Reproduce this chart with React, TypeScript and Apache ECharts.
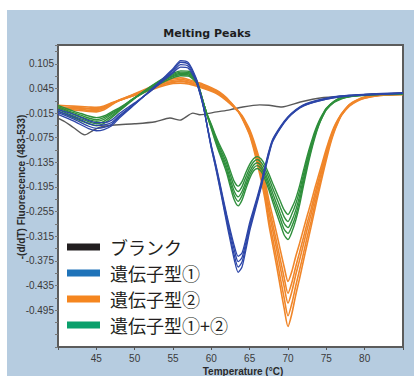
import React, { useEffect, useRef } from "react";
import * as echarts from "echarts";

// ---- Data ----
const LEGEND_NAMES = ["ブランク", "遺伝子型①", "遺伝子型②", "遺伝子型①+②"];
const Y_TICK_LABELS = ["0.105", "0.045", "-0.015", "-0.075", "-0.135", "-0.195", "-0.255", "-0.315", "-0.375", "-0.435", "-0.495"];
const X_TICKS = [45, 50, 55, 60, 65, 70, 75, 80];

const TEMP_BLANK = [40, 40.9, 42, 43.5, 44.5, 45.5, 47.4, 50, 52.7, 54.6, 55.9, 57.6, 58.5, 60.7, 62.4, 64.1, 66.3, 67.5, 69.2, 71.6, 74.2, 78.1, 81, 85];
const BLANK = [-0.027, -0.036, -0.05, -0.068, -0.058, -0.049, -0.044, -0.041, -0.036, -0.027, -0.032, -0.015, -0.019, -0.012, -0.007, 0.0, 0.005, 0.004, 0.0, 0.012, 0.022, 0.027, 0.03, 0.033];

const TEMP_BLUE = [40, 42, 44, 45, 46, 47, 48, 50, 52, 54, 55, 56, 57, 58, 58.5, 59, 59.5, 60, 60.5, 61, 61.5, 62, 62.5, 63, 63.5, 64, 64.5, 65, 65.5, 66, 66.5, 67, 67.5, 68, 69, 70, 71, 72, 74, 76, 78, 80, 85];
const BLUE_1 = [-0.006, -0.018, -0.033, -0.038, -0.038, -0.032, -0.016, 0.01, 0.037, 0.068, 0.083, 0.097, 0.094, 0.062, 0.033, -0.003, -0.049, -0.094, -0.133, -0.175, -0.219, -0.262, -0.302, -0.339, -0.364, -0.356, -0.322, -0.282, -0.25, -0.218, -0.184, -0.145, -0.108, -0.079, -0.048, -0.024, -0.007, 0.005, 0.017, 0.025, 0.029, 0.031, 0.035];
const BLUE_2 = [-0.01, -0.024, -0.04, -0.045, -0.044, -0.038, -0.021, 0.008, 0.038, 0.07, 0.086, 0.103, 0.099, 0.065, 0.035, -0.002, -0.05, -0.096, -0.136, -0.179, -0.224, -0.268, -0.31, -0.349, -0.377, -0.367, -0.331, -0.289, -0.256, -0.223, -0.188, -0.149, -0.111, -0.081, -0.05, -0.025, -0.008, 0.004, 0.016, 0.024, 0.028, 0.03, 0.034];
const BLUE_3 = [-0.014, -0.029, -0.047, -0.052, -0.05, -0.042, -0.024, 0.007, 0.039, 0.073, 0.09, 0.109, 0.104, 0.068, 0.037, -0.001, -0.051, -0.099, -0.14, -0.184, -0.23, -0.276, -0.32, -0.362, -0.39, -0.378, -0.34, -0.296, -0.261, -0.227, -0.192, -0.152, -0.114, -0.083, -0.051, -0.026, -0.009, 0.003, 0.015, 0.023, 0.027, 0.03, 0.033];
const BLUE_4 = [-0.018, -0.034, -0.053, -0.058, -0.055, -0.046, -0.027, 0.006, 0.04, 0.075, 0.093, 0.113, 0.108, 0.071, 0.039, 0.0, -0.052, -0.101, -0.143, -0.188, -0.235, -0.283, -0.329, -0.373, -0.403, -0.39, -0.349, -0.303, -0.267, -0.232, -0.196, -0.155, -0.117, -0.085, -0.052, -0.027, -0.01, 0.002, 0.014, 0.022, 0.027, 0.029, 0.033];

const TEMP_ORANGE = [40, 42, 44, 45, 46, 47, 48, 50, 52, 54, 55, 56, 57, 58, 59, 60, 61, 62, 62.5, 63, 63.5, 64, 64.5, 65, 65.5, 66, 66.5, 67, 67.5, 68, 68.5, 69, 69.5, 70, 70.5, 71, 71.5, 72, 72.5, 73, 73.5, 74, 74.5, 75, 75.5, 76, 76.5, 77, 78, 79, 80, 82, 85];
const ORANGE_1 = [0.004, 0.002, 0.0, -0.001, 0.002, 0.01, 0.017, 0.028, 0.041, 0.053, 0.057, 0.058, 0.056, 0.051, 0.045, 0.038, 0.029, 0.015, 0.007, -0.002, -0.011, -0.021, -0.037, -0.055, -0.08, -0.11, -0.142, -0.18, -0.227, -0.267, -0.307, -0.349, -0.39, -0.425, -0.401, -0.365, -0.333, -0.299, -0.265, -0.233, -0.198, -0.166, -0.134, -0.102, -0.073, -0.049, -0.031, -0.016, 0.006, 0.017, 0.024, 0.03, 0.034];
const ORANGE_2 = [0.0, -0.001, -0.003, -0.004, 0.0, 0.009, 0.016, 0.029, 0.043, 0.056, 0.06, 0.062, 0.059, 0.053, 0.047, 0.04, 0.031, 0.017, 0.009, -0.001, -0.01, -0.023, -0.04, -0.059, -0.086, -0.118, -0.152, -0.192, -0.242, -0.285, -0.328, -0.372, -0.416, -0.454, -0.428, -0.39, -0.355, -0.319, -0.283, -0.249, -0.212, -0.177, -0.143, -0.109, -0.078, -0.052, -0.033, -0.017, 0.005, 0.016, 0.023, 0.029, 0.033];
const ORANGE_3 = [-0.002, -0.002, -0.005, -0.006, -0.002, 0.008, 0.016, 0.029, 0.044, 0.058, 0.062, 0.064, 0.061, 0.055, 0.049, 0.042, 0.033, 0.018, 0.01, 0.0, -0.01, -0.024, -0.042, -0.062, -0.09, -0.124, -0.16, -0.202, -0.255, -0.3, -0.345, -0.392, -0.438, -0.478, -0.45, -0.41, -0.374, -0.336, -0.298, -0.262, -0.223, -0.186, -0.15, -0.115, -0.082, -0.055, -0.035, -0.018, 0.004, 0.016, 0.023, 0.029, 0.032];
const ORANGE_4 = [-0.004, -0.004, -0.008, -0.009, -0.004, 0.007, 0.017, 0.031, 0.046, 0.061, 0.065, 0.067, 0.064, 0.058, 0.052, 0.045, 0.035, 0.02, 0.011, 0.001, -0.01, -0.026, -0.045, -0.066, -0.096, -0.132, -0.17, -0.215, -0.272, -0.32, -0.367, -0.417, -0.466, -0.509, -0.479, -0.437, -0.398, -0.358, -0.317, -0.279, -0.237, -0.198, -0.16, -0.122, -0.087, -0.059, -0.037, -0.019, 0.003, 0.015, 0.022, 0.028, 0.031];
const ORANGE_5 = [-0.006, -0.007, -0.011, -0.012, -0.007, 0.005, 0.016, 0.032, 0.048, 0.064, 0.069, 0.071, 0.067, 0.061, 0.055, 0.047, 0.037, 0.022, 0.012, 0.001, -0.011, -0.027, -0.047, -0.069, -0.101, -0.139, -0.179, -0.226, -0.286, -0.336, -0.386, -0.439, -0.491, -0.535, -0.504, -0.459, -0.419, -0.376, -0.334, -0.293, -0.25, -0.208, -0.168, -0.129, -0.092, -0.062, -0.039, -0.02, 0.002, 0.014, 0.021, 0.028, 0.03];

const TEMP_GREEN = [40, 42, 43, 44, 45, 46, 47, 48, 50, 52, 54, 55, 56, 57, 58, 58.5, 59, 59.5, 60, 60.5, 61, 61.5, 62, 62.5, 63, 63.5, 64, 64.5, 65, 65.5, 66, 66.5, 67, 67.5, 68, 68.5, 69, 69.5, 70, 70.5, 71, 71.5, 72, 72.5, 73, 73.5, 74, 74.5, 75, 76, 77, 78, 80, 82, 85];
const GREEN_1 = [0.004, -0.01, -0.016, -0.022, -0.026, -0.022, -0.012, -0.002, 0.022, 0.043, 0.063, 0.071, 0.076, 0.075, 0.06, 0.037, 0.007, -0.02, -0.043, -0.067, -0.089, -0.108, -0.129, -0.157, -0.182, -0.193, -0.182, -0.16, -0.14, -0.126, -0.121, -0.127, -0.142, -0.163, -0.186, -0.208, -0.23, -0.251, -0.262, -0.246, -0.224, -0.193, -0.156, -0.12, -0.088, -0.059, -0.036, -0.018, -0.003, 0.014, 0.023, 0.027, 0.03, 0.032, 0.033];
const GREEN_2 = [0.001, -0.014, -0.02, -0.027, -0.031, -0.026, -0.015, -0.004, 0.022, 0.045, 0.066, 0.074, 0.079, 0.078, 0.062, 0.039, 0.008, -0.021, -0.045, -0.071, -0.094, -0.115, -0.137, -0.167, -0.194, -0.206, -0.194, -0.171, -0.149, -0.134, -0.128, -0.135, -0.151, -0.173, -0.198, -0.221, -0.245, -0.268, -0.279, -0.261, -0.237, -0.205, -0.166, -0.128, -0.094, -0.064, -0.039, -0.02, -0.004, 0.013, 0.022, 0.026, 0.029, 0.031, 0.032];
const GREEN_3 = [-0.002, -0.017, -0.024, -0.031, -0.035, -0.03, -0.018, -0.006, 0.022, 0.046, 0.068, 0.076, 0.082, 0.081, 0.064, 0.04, 0.008, -0.022, -0.048, -0.075, -0.1, -0.122, -0.146, -0.178, -0.206, -0.219, -0.206, -0.182, -0.158, -0.142, -0.136, -0.143, -0.16, -0.184, -0.21, -0.235, -0.26, -0.284, -0.294, -0.277, -0.252, -0.218, -0.176, -0.136, -0.1, -0.068, -0.042, -0.022, -0.005, 0.013, 0.022, 0.026, 0.029, 0.031, 0.032];
const GREEN_4 = [-0.006, -0.022, -0.029, -0.036, -0.041, -0.035, -0.022, -0.008, 0.022, 0.048, 0.071, 0.079, 0.085, 0.084, 0.066, 0.041, 0.008, -0.023, -0.05, -0.079, -0.105, -0.128, -0.153, -0.187, -0.216, -0.23, -0.216, -0.191, -0.166, -0.149, -0.143, -0.15, -0.168, -0.193, -0.221, -0.247, -0.273, -0.298, -0.308, -0.291, -0.265, -0.229, -0.185, -0.143, -0.105, -0.071, -0.044, -0.023, -0.006, 0.012, 0.021, 0.025, 0.029, 0.031, 0.032];
const GREEN_5 = [-0.01, -0.026, -0.034, -0.041, -0.046, -0.04, -0.026, -0.01, 0.021, 0.049, 0.073, 0.082, 0.088, 0.087, 0.068, 0.042, 0.009, -0.024, -0.053, -0.083, -0.11, -0.134, -0.161, -0.196, -0.227, -0.241, -0.227, -0.2, -0.174, -0.156, -0.15, -0.157, -0.176, -0.202, -0.231, -0.259, -0.286, -0.312, -0.323, -0.305, -0.277, -0.24, -0.194, -0.15, -0.11, -0.075, -0.046, -0.024, -0.007, 0.011, 0.02, 0.025, 0.028, 0.03, 0.031];

// ---- Styles ----
const CURVE_COLORS = { blank: "#595959", blue: "#2d46a8", orange: "#f0862a", green: "#2f8f3c" };
const LEGEND_COLORS = ["#231f20", "#1f73b9", "#f5861f", "#0ba06c"];

const pairs = (xs: number[], ys: number[]) => xs.map((x, i) => [x, ys[i]]);

export default function App() {
  const ref = useRef<HTMLDivElement>(null);

  useEffect(() => {
    if (!ref.current) return;
    const chart = echarts.init(ref.current, null, { renderer: "svg" });

    const mk = (name: string, xs: number[], ys: number[], color: string, width: number, z: number) => ({
      type: "line",
      name,
      data: pairs(xs, ys),
      showSymbol: false,
      smooth: 0.25,
      lineStyle: { color, width },
      itemStyle: { color },
      z,
      silent: true,
    });

    const series: any[] = [
      mk(LEGEND_NAMES[0], TEMP_BLANK, BLANK, CURVE_COLORS.blank, 1.4, 1),
      ...[ORANGE_1, ORANGE_2, ORANGE_3, ORANGE_4, ORANGE_5].map((d) => mk(LEGEND_NAMES[2], TEMP_ORANGE, d, CURVE_COLORS.orange, 1.6, 2)),
      ...[GREEN_1, GREEN_2, GREEN_3, GREEN_4, GREEN_5].map((d) => mk(LEGEND_NAMES[3], TEMP_GREEN, d, CURVE_COLORS.green, 1.4, 3)),
      ...[BLUE_1, BLUE_2, BLUE_3, BLUE_4].map((d) => mk(LEGEND_NAMES[1], TEMP_BLUE, d, CURVE_COLORS.blue, 1.3, 4)),
    ];

    const yMin = -0.585;
    const yStep = 0.03;

    chart.setOption({
      animation: false,
      backgroundColor: "transparent",
      title: {
        text: "Melting Peaks",
        left: "center",
        top: 23,
        textStyle: { fontFamily: "DejaVu Sans", fontWeight: "bold", fontSize: 11, color: "#1e1e1e" },
      },
      grid: {
        left: 58,
        top: 45,
        width: 345,
        height: 302,
        show: true,
        backgroundColor: "#ffffff",
        borderColor: "#5c5c5c",
        borderWidth: 2,
      },
      xAxis: {
        type: "value",
        min: 40,
        max: 85,
        interval: 5,
        axisLine: { show: false, onZero: false },
        splitLine: { show: false },
        axisTick: { show: true, length: 3, lineStyle: { color: "#555" } },
        axisLabel: {
          margin: 6,
          fontSize: 10,
          color: "#3a3a3a",
          fontFamily: "Liberation Sans Narrow, Liberation Sans, Arial",
          formatter: (v: number) => (X_TICKS.indexOf(v) >= 0 ? String(v) : ""),
        },
      },
      yAxis: {
        type: "value",
        min: yMin,
        max: 0.151,
        interval: yStep,
        axisLine: { show: false, onZero: false },
        splitLine: { show: false },
        axisTick: { show: true, length: 3, lineStyle: { color: "#777" } },
        axisLabel: {
          margin: 4,
          fontSize: 10,
          color: "#3a3a3a",
          fontFamily: "Liberation Sans Narrow, Liberation Sans, Arial",
          formatter: (v: number) => {
            const k = (v - yMin) / yStep;
            const r = Math.round(k);
            if (Math.abs(k - r) > 0.01 || r % 2 !== 1) return "";
            const s = v.toFixed(3);
            return Y_TICK_LABELS.indexOf(s) >= 0 ? s : "";
          },
        },
      },
      legend: {
        left: 67,
        top: 237,
        orient: "vertical",
        padding: 0,
        itemGap: 6,
        itemWidth: 33,
        itemHeight: 7,
        icon: "rect",
        selectedMode: false,
        textStyle: {
          fontFamily: "Noto Sans CJK JP",
          fontSize: 18,
          lineHeight: 20,
          color: "#231f20",
          padding: [0, 0, 0, 5],
        },
        data: LEGEND_NAMES.map((n, i) => ({ name: n, itemStyle: { color: LEGEND_COLORS[i] } })),
      },
      graphic: [
        {
          type: "text",
          x: 21,
          y: 187,
          rotation: Math.PI / 2,
          style: {
            text: "-(d/dT) Fluorescence (483-533)",
            fontFamily: "Liberation Sans, Arial",
            fontWeight: "bold",
            fontSize: 10,
            fill: "#2a2a2a",
            align: "center",
            verticalAlign: "middle",
          },
        },
        {
          type: "text",
          x: 243,
          y: 371,
          style: {
            text: "Temperature (°C)",
            fontFamily: "Liberation Sans, Arial",
            fontWeight: "bold",
            fontSize: 10,
            fill: "#2a2a2a",
            align: "center",
            verticalAlign: "middle",
          },
        },
      ],
      series,
    });

    return () => chart.dispose();
  }, []);

  return (
    <div style={{ position: "fixed", left: 0, top: 0, width: 414, height: 376, background: "#ffffff", overflow: "hidden" }}>
      <div style={{ position: "absolute", left: 7, top: 10, width: 407, height: 366, background: "#b6cce0" }} />
      <div ref={ref} style={{ position: "absolute", left: 0, top: 0, width: 414, height: 376 }} />
    </div>
  );
}
